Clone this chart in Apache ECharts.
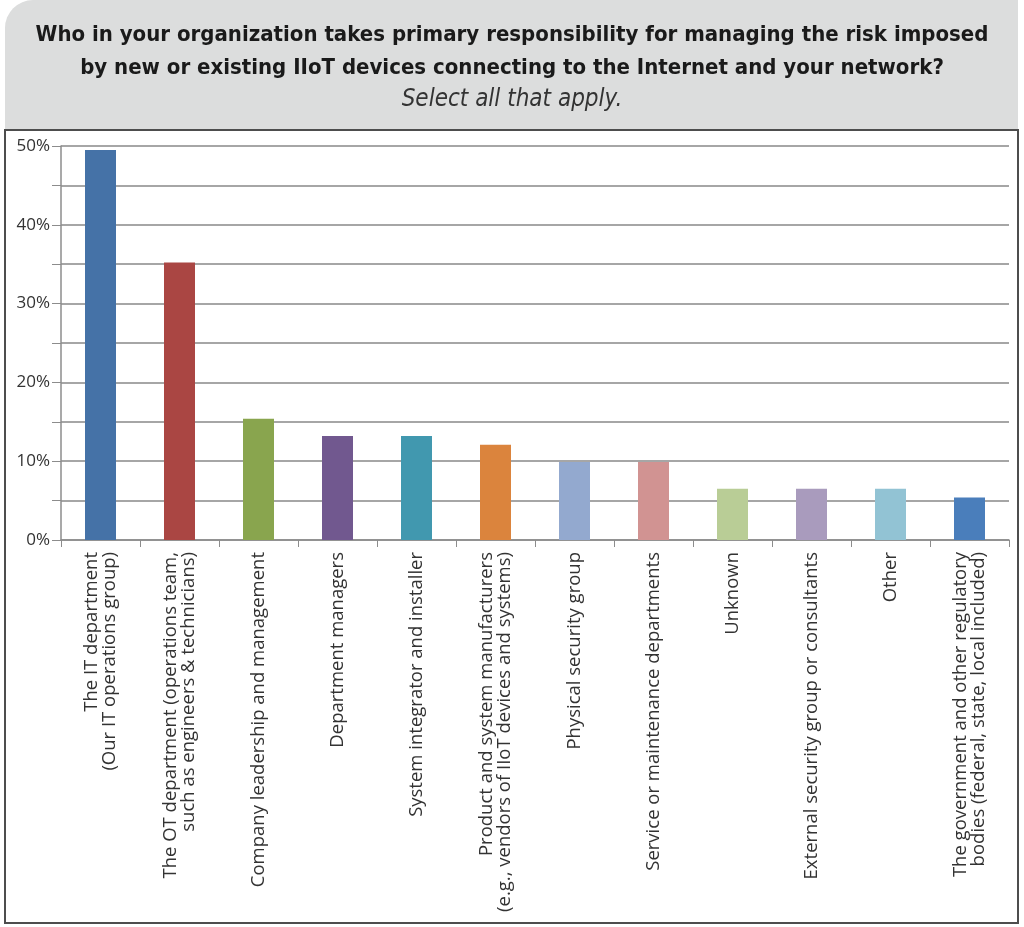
<!DOCTYPE html>
<html>
<head>
<meta charset="utf-8">
<script src="https://cdn.jsdelivr.net/npm/echarts@6/dist/echarts.min.js"></script>
<style>
  html, body { margin: 0; padding: 0; background: #fff; }
  #chart { width: 1024px; height: 927px; }
</style>
</head>
<body>
<div id="chart"></div>
<script>
// categories (x axis), two-line labels split with \n
const categories = [
  'The IT department\n(Our IT operations group)',
  'The OT department (operations team,\nsuch as engineers & technicians)',
  'Company leadership and management',
  'Department managers',
  'System integrator and installer',
  'Product and system manufacturers\n(e.g., vendors of IIoT devices and systems)',
  'Physical security group',
  'Service or maintenance departments',
  'Unknown',
  'External security group or consultants',
  'Other',
  'The government and other regulatory\nbodies (federal, state, local included)'
]

// share of respondents, %
const values = [49.5, 35.2, 15.4, 13.2, 13.2, 12.1, 9.9, 9.9, 6.5, 6.5, 6.5, 5.4]

const barColors = [
  '#4572a7', '#aa4643', '#89a54e', '#71588f', '#4198af', '#db843d',
  '#93a9cf', '#d19392', '#b9cd96', '#a99bbd', '#92c3d4', '#4a7ebb'
]

const yTicks = { min: 0, max: 50, step: 5 }

const chart = echarts.init(document.getElementById('chart'))

chart.setOption({
  animation: false,
  graphic: [
    // grey header panel
    {
      type: 'rect',
      shape: { x: 5, y: 0, width: 1013, height: 130, r: [28, 0, 0, 0] },
      style: { fill: '#dcdddd' },
      z: -10,
    },
    // frame round the plot
    {
      type: 'rect',
      shape: { x: 5, y: 130, width: 1013, height: 793 },
      style: { fill: 'none', stroke: '#4d4d4d', lineWidth: 2 },
      z: -5,
    },
    {
      type: 'text',
      x: 512,
      y: 19,
      style: {
        text: 'Who in your organization takes primary responsibility for managing the risk imposed\nby new or existing IIoT devices connecting to the Internet and your network?',
        font: 'bold 22px "DejaVu Sans Condensed", sans-serif',
        fill: '#1a1a1a',
        align: 'center',
        verticalAlign: 'top',
        lineHeight: 33,
      },
    },
    {
      type: 'text',
      x: 512,
      y: 88,
      style: {
        text: 'Select all that apply.',
        font: 'italic 24px "DejaVu Sans Condensed", sans-serif',
        fill: '#333',
        align: 'center',
        verticalAlign: 'top',
      },
    },
  ],
  grid: {
    left: 61,
    right: 15,
    top: 146,
    bottom: 387,
  },
  xAxis: {
    type: 'category',
    data: categories,
    axisLine: { lineStyle: { color: '#8c8c8c', width: 1.5 } },
    axisTick: { show: true, length: 7, lineStyle: { color: '#8c8c8c' } },
    axisLabel: {
      rotate: 90,
      interval: 0,
      margin: 12,
      fontFamily: 'Open Sans',
      fontSize: 18.5,
      color: '#333',
      lineHeight: 18,
    },
  },
  yAxis: {
    type: 'value',
    min: yTicks.min,
    max: yTicks.max,
    interval: yTicks.step,
    axisLine: { show: true, lineStyle: { color: '#8c8c8c', width: 1.5 } },
    axisTick: { show: true, length: 9, lineStyle: { color: '#8c8c8c' } },
    axisLabel: {
      fontFamily: 'Open Sans',
      fontSize: 17,
      color: '#333',
      margin: 11,
      formatter: v => (v % 10 === 0 ? v + '%' : ''),
    },
    splitLine: { lineStyle: { color: '#a6a6a6', width: 2 } },
  },
  series: [
    {
      type: 'bar',
      data: values.map((v, i) => ({ value: v, itemStyle: { color: barColors[i] } })),
      barWidth: 31,
    },
  ],
})
</script>
</body>
</html>
